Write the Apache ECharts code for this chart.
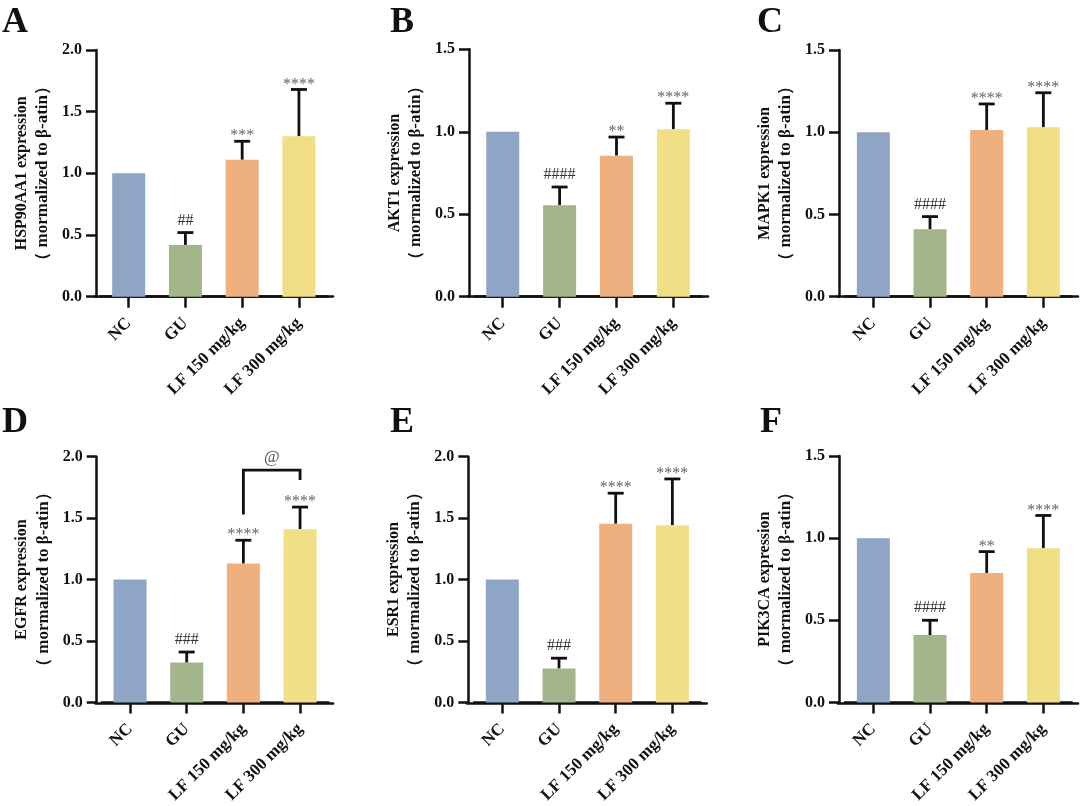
<!DOCTYPE html>
<html>
<head>
<meta charset="utf-8">
<script src="https://cdn.jsdelivr.net/npm/echarts@6/dist/echarts.min.js"></script>
<style>
html,body{margin:0;padding:0;background:#fff;}
#chart{width:1080px;height:806px;}
</style>
</head>
<body>
<div id="chart"></div>
<script>
// ---------- data ----------
const categories = ['NC', 'GU', 'LF 150 mg/kg', 'LF 300 mg/kg'];
const panelLetters = ['A', 'B', 'C', 'D', 'E', 'F'];
const genes = ['HSP90AA1', 'AKT1', 'MAPK1', 'EGFR', 'ESR1', 'PIK3CA'];
const yMax = [2.0, 1.5, 1.5, 2.0, 2.0, 1.5];
const yTickStep = 0.5;

const meanA = [1.00, 0.42, 1.11, 1.30];
const sdA   = [0, 0.10, 0.15, 0.38];
const meanB = [1.00, 0.555, 0.855, 1.015];
const sdB   = [0, 0.11, 0.113, 0.158];
const meanC = [1.00, 0.41, 1.014, 1.03];
const sdC   = [0, 0.077, 0.158, 0.21];
const meanD = [1.00, 0.324, 1.13, 1.41];
const sdD   = [0, 0.086, 0.19, 0.18];
const meanE = [1.00, 0.276, 1.454, 1.443];
const sdE   = [0, 0.084, 0.249, 0.376];
const meanF = [1.00, 0.41, 0.788, 0.938];
const sdF   = [0, 0.09, 0.13, 0.20];

const sigA = ['', '##', '***', '****'];
const sigB = ['', '####', '**', '****'];
const sigC = ['', '####', '****', '****'];
const sigD = ['', '###', '****', '****'];
const sigE = ['', '###', '****', '****'];
const sigF = ['', '####', '**', '****'];

// bracket in panel D: from category 2 to 3
const bracketD = { from: 2, to: 3, leftLow: 1.53, top: 1.89, rightLow: 1.81, label: '@' };

const yTitleLine2 = '（ mormalized to β-atin）';

const means = [meanA, meanB, meanC, meanD, meanE, meanF];
const sds = [sdA, sdB, sdC, sdD, sdE, sdF];
const sigs = [sigA, sigB, sigC, sigD, sigE, sigF];

// ---------- layout / style ----------
const FONT = '"Liberation Serif", "Times New Roman", serif';
const INK = '#111';
const barColors = ['#8FA5C5', '#A3B68B', '#EEB07E', '#F0DF84'];
const layout = [
  { axisX: 96,    left: 100.3, width: 227,   axisEnd: 333,   top: 50,    bottom: 296.7, lx: 2,   ly: 5 },
  { axisX: 469,   left: 474.3, width: 227.5, axisEnd: 708,   top: 49.3,  bottom: 296.7, lx: 390, ly: 5 },
  { axisX: 839,   left: 845,   width: 226.7, axisEnd: 1078,  top: 50,    bottom: 296.7, lx: 757, ly: 5 },
  { axisX: 96.7,  left: 101.7, width: 226.7, axisEnd: 333,   top: 456.7, bottom: 703.3, lx: 2,   ly: 405 },
  { axisX: 468.3, left: 474,   width: 226.7, axisEnd: 706.7, top: 456.7, bottom: 703.3, lx: 390, ly: 405 },
  { axisX: 839,   left: 845,   width: 226.7, axisEnd: 1078,  top: 456,   bottom: 703.3, lx: 760, ly: 405 }
];

const chart = echarts.init(document.getElementById('chart'), null, { renderer: 'canvas' });

const grids = [], xAxes = [], yAxes = [], series = [], graphics = [];

layout.forEach((L, i) => {
  grids.push({ left: L.left, top: L.top, width: L.width, height: L.bottom - L.top, containLabel: false });
  xAxes.push({
    type: 'category', gridIndex: i, data: categories,
    axisLine: { show: true, lineStyle: { color: INK, width: 2.5 } },
    axisTick: { show: true, alignWithLabel: true, length: 11, lineStyle: { color: INK, width: 2.5 } },
    axisLabel: { interval: 0, rotate: 45, margin: 24, color: INK, fontFamily: FONT, fontWeight: 'bold', fontSize: 17 },
    splitLine: { show: false }
  });
  yAxes.push({
    type: 'value', gridIndex: i, min: 0, max: yMax[i], interval: yTickStep,
    offset: L.left - L.axisX,
    axisLine: { show: true, lineStyle: { color: INK, width: 2.5 } },
    axisTick: { show: true, length: 10, lineStyle: { color: INK, width: 2.5 } },
    axisLabel: { color: INK, fontFamily: FONT, fontWeight: 'bold', fontSize: 16, margin: 14, formatter: v => v.toFixed(1) },
    splitLine: { show: false },
    name: '{a|' + genes[i] + ' expression}\n{b|' + yTitleLine2 + '}',
    nameLocation: 'middle', nameGap: 43,
    nameTextStyle: {
      color: INK, fontFamily: FONT, fontWeight: 'bold', fontSize: 16, lineHeight: 21,
      rich: {
        a: { color: INK, fontFamily: FONT, fontWeight: 'bold', fontSize: 16, lineHeight: 21 },
        b: { color: INK, fontFamily: FONT, fontWeight: 'bold', fontSize: 17, lineHeight: 21 }
      }
    }
  });
  series.push({
    type: 'bar', xAxisIndex: i, yAxisIndex: i, barWidth: 33, silent: true,
    data: means[i].map((v, k) => ({ value: v, itemStyle: { color: barColors[k] } })),
    animation: false
  });
  const errData = means[i].map((m, k) => [k, m, m + sds[i][k]]);
  series.push({
    type: 'custom', xAxisIndex: i, yAxisIndex: i, silent: true, animation: false, clip: false,
    data: errData,
    renderItem: (params, api) => {
      const k = params.dataIndex;
      const children = [];
      const sd = sds[i][k];
      const p0 = api.coord([api.value(0), api.value(1)]);
      const p1 = api.coord([api.value(0), api.value(2)]);
      if (sd > 0) {
        children.push({ type: 'line', shape: { x1: p0[0], y1: p0[1], x2: p1[0], y2: p1[1] }, style: { stroke: INK, lineWidth: 2.8 } });
        children.push({ type: 'line', shape: { x1: p1[0] - 8, y1: p1[1], x2: p1[0] + 8, y2: p1[1] }, style: { stroke: INK, lineWidth: 2.8 } });
      }
      const t = sigs[i][k];
      if (t) {
        const isHash = t[0] === '#';
        children.push({
          type: 'text',
          style: {
            text: t, x: p1[0], y: p1[1] - (isHash ? 12 : 5),
            textAlign: 'center', textVerticalAlign: 'middle',
            fontFamily: FONT, fontSize: 16, fill: isHash ? '#333' : '#666'
          }
        });
      }
      return { type: 'group', children };
    }
  });
  graphics.push({
    type: 'text', x: L.lx, y: L.ly,
    style: { text: panelLetters[i], fontFamily: FONT, fontWeight: 'bold', fontSize: 36, fill: INK, verticalAlign: 'top' }
  });
});

// full-length x axis lines (separate grids spanning axis extent)
layout.forEach((L, i) => {
  const gi = grids.length;
  grids.push({ left: L.axisX - 1.25, top: L.top, width: L.axisEnd - L.axisX + 1.25, height: L.bottom - L.top, containLabel: false });
  xAxes.push({
    type: 'value', gridIndex: gi, min: 0, max: 1,
    axisLine: { show: true, lineStyle: { color: INK, width: 2.5 } },
    axisTick: { show: false }, axisLabel: { show: false }, splitLine: { show: false }
  });
  yAxes.push({ type: 'value', gridIndex: gi, min: 0, max: 1, show: false });
});

// bracket for panel D
series.push({
  type: 'custom', xAxisIndex: 3, yAxisIndex: 3, silent: true, animation: false, clip: false,
  data: [[bracketD.from, bracketD.to, bracketD.leftLow, bracketD.top, bracketD.rightLow]],
  renderItem: (params, api) => {
    const a = api.coord([api.value(0), api.value(2)]);
    const b = api.coord([api.value(0), api.value(3)]);
    const c = api.coord([api.value(1), api.value(3)]);
    const d = api.coord([api.value(1), api.value(4)]);
    return {
      type: 'group',
      children: [
        { type: 'polyline', shape: { points: [a, b, c, d] }, style: { stroke: INK, lineWidth: 2.8, fill: null } },
        { type: 'text', style: { text: bracketD.label, x: (b[0] + c[0]) / 2, y: b[1] - 13, textAlign: 'center', textVerticalAlign: 'middle', fontFamily: FONT, fontSize: 17, fill: '#555' } }
      ]
    };
  }
});

chart.setOption({
  animation: false,
  backgroundColor: '#fff',
  grid: grids,
  xAxis: xAxes,
  yAxis: yAxes,
  series: series,
  graphic: graphics
});
</script>
</body>
</html>
